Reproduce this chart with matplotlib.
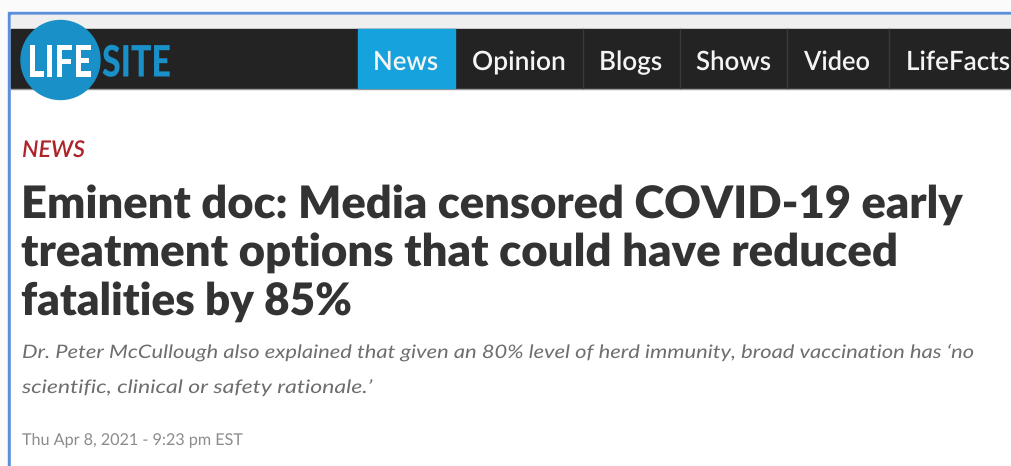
import matplotlib
matplotlib.use('Agg')
import matplotlib.pyplot as plt
from matplotlib.patches import Rectangle, Circle
from matplotlib.patheffects import AbstractPathEffect
from matplotlib.transforms import Affine2D

# page content
logo_left = 'LIFE'
logo_right = 'SITE'
nav_labels = ['News', 'Opinion', 'Blogs', 'Shows', 'Video', 'LifeFacts']
section = 'NEWS'
headline = ['Eminent doc: Media censored COVID-19 early',
            'treatment options that could have reduced',
            'fatalities by 85%']
subtitle = ['Dr. Peter McCullough also explained that given an 80% level of herd immunity, broad vaccination has \u2018no',
            'scientific, clinical or safety rationale.\u2019']
dateline = 'Thu Apr 8, 2021 - 9:23 pm EST'

# layout (pixels)
nav_text_x = [373, 472, 599, 696, 804, 906]
nav_text_w = [65, 94, 63, 75, 66, 104]
nav_sep_x = [583, 680, 787, 889]
head_base = [218, 266, 315]
head_w = [943, 878, 331]
sub_base = [358, 393]
sub_w = [951, 350]

LATO_CAP = 0.7165  # cap height / em

fig = plt.figure(figsize=(10.12, 4.66), dpi=100)
ax = fig.add_axes([0, 0, 1, 1])
ax.set_xlim(0, 1012)
ax.set_ylim(466, 0)
ax.axis('off')
fig.canvas.draw()
renderer = fig.canvas.get_renderer()


class Stretch(AbstractPathEffect):
    # scale glyphs vertically about the baseline (screenshot text is squashed)
    def __init__(self, sy, y0):
        super().__init__()
        self.sy, self.y0 = sy, y0

    def draw_path(self, renderer, gc, tpath, affine, rgbFace=None):
        a = affine + Affine2D().translate(0, -self.y0).scale(1, self.sy).translate(0, self.y0)
        renderer.draw_path(gc, tpath, a, rgbFace)


def put(s, x, y, w, cap, size=20, **kw):
    t = ax.text(x, y, s, fontsize=size, ha='left', va='baseline', **kw)
    bb = t.get_window_extent(renderer)
    size = size * w / bb.width
    t.set_fontsize(size)
    cap_px = size * fig.dpi / 72 * LATO_CAP
    y0 = ax.transData.transform((x, y))[1]
    t.set_path_effects([Stretch(cap / cap_px, y0)])
    return t


# frame
ax.add_patch(Rectangle((0, 0), 1012, 466, color='#fbfbfb', zorder=0))
ax.add_patch(Rectangle((8, 12), 1010, 460, color='#5b8fdc', zorder=1))
ax.add_patch(Rectangle((11, 15), 1010, 460, color='white', zorder=2))
ax.add_patch(Rectangle((11, 15), 1010, 14, color='#efefef', zorder=3))

# nav bar
ax.add_patch(Rectangle((11, 29), 1010, 59, color='#232323', zorder=3))
ax.plot([11, 1012], [88.5, 88.5], color='#9a9a9a', lw=1, zorder=4)
ax.add_patch(Rectangle((358, 29), 97, 59, color='#16a2dc', zorder=4))
for sx in nav_sep_x:
    ax.plot([sx, sx], [29, 88], color='#3a3a3a', lw=1, zorder=4)
for lab, x, w in zip(nav_labels, nav_text_x, nav_text_w):
    put(lab, x, 70, w, 19, family='Lato', weight='semibold', color='#f4f4f4', zorder=6)

# logo
ax.add_patch(Circle((60.5, 60), 39.5, color='#1a90c8', zorder=5))
put(logo_left, 28, 76.5, 64, 31, family='Lato', weight='black', color='white', zorder=6)
put(logo_right, 102, 76.5, 69, 31, family='Lato', weight='black', color='#1a90c8', zorder=6)

# article header
put(section, 22, 157, 63, 16.5, family='Lato', style='italic', weight='semibold', color='#ad2329', zorder=6)
for line, yb, w in zip(headline, head_base, head_w):
    put(line, 21, yb, w, 32, family='Lato', weight='heavy', color='#333333', zorder=6)
for line, yb, w in zip(subtitle, sub_base, sub_w):
    put(line, 22, yb, w, 13.3, family='Lato', style='italic', color='#6e6e6e', zorder=6)
put(dateline, 22, 445, 221, 11.7, family='Lato', color='#8c8c8c', zorder=6)

fig.savefig('out.png', dpi=100)
